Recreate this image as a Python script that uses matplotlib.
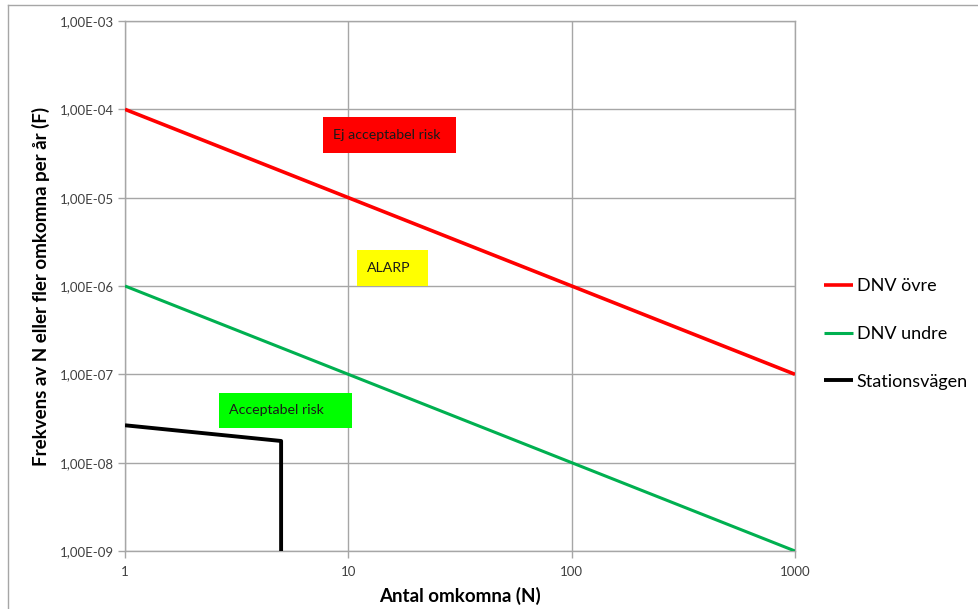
import matplotlib
matplotlib.use("Agg")
import matplotlib.pyplot as plt
from matplotlib.lines import Line2D
from matplotlib.patches import Rectangle
from matplotlib.ticker import FixedLocator, NullLocator

plt.rcParams['font.family'] = ['Lato', 'DejaVu Sans']

n_upper = [1, 1000]
f_upper = [1e-4, 1e-7]
n_lower = [1, 1000]
f_lower = [1e-6, 1e-9]
n_station = [1, 5, 5]
f_station = [2.65e-8, 1.76e-8, 1e-9]

x_ticks = [1, 10, 100, 1000]
x_ticklabels = ["1", "10", "100", "1000"]
y_ticks = [1e-9, 1e-8, 1e-7, 1e-6, 1e-5, 1e-4, 1e-3]
y_ticklabels = ["1,00E-09", "1,00E-08", "1,00E-07", "1,00E-06", "1,00E-05", "1,00E-04", "1,00E-03"]

series_names = ["DNV övre", "DNV undre", "Stationsvägen"]
region_labels = ["Ej acceptabel risk", "ALARP", "Acceptabel risk"]

W, H = 979, 609
fig = plt.figure(figsize=(W / 100, H / 100), dpi=100)
ax = fig.add_axes([125 / W, 1 - 551 / H, (795 - 125) / W, (551 - 21) / H])

ax.set_xscale('log')
ax.set_yscale('log')
ax.set_xlim(1, 1000)
ax.set_ylim(1e-9, 1e-3)

l1, = ax.plot(n_upper, f_upper, color='#ff0000', lw=2.6, solid_capstyle='butt', zorder=3)
l2, = ax.plot(n_lower, f_lower, color='#00b050', lw=2.2, solid_capstyle='butt', zorder=3)
l3, = ax.plot(n_station, f_station, color='black', lw=2.8, solid_capstyle='butt', zorder=3)

ax.xaxis.set_major_locator(FixedLocator(x_ticks))
ax.yaxis.set_major_locator(FixedLocator(y_ticks))
ax.xaxis.set_minor_locator(NullLocator())
ax.yaxis.set_minor_locator(NullLocator())
ax.set_xticklabels(x_ticklabels)
ax.set_yticklabels(y_ticklabels)
ax.tick_params(axis='both', which='major', length=5, color='#a6a6a6', width=1,
               labelsize=9.5, labelcolor='#404040', direction='out')
ax.tick_params(axis='x', pad=6)
ax.tick_params(axis='y', pad=3)
ax.grid(True, which='major', color='#a6a6a6', lw=1)
ax.set_axisbelow(True)
for s in ax.spines.values():
    s.set_color('#a6a6a6')
    s.set_linewidth(1)

ax.set_xlabel("Antal omkomna (N)", fontsize=13.5, fontweight='bold', labelpad=6)
ax.set_ylabel("Frekvens av N eller fler omkomna per år (F)", fontsize=13.5, fontweight='bold', labelpad=4)
ax.yaxis.set_label_coords(-0.112, 0.5)

# region label boxes (pixel positions in figure)
boxes = [
    (323, 117, 456, 153, '#ff0000', region_labels[0]),
    (357, 250, 428, 286, '#ffff00', region_labels[1]),
    (219, 393, 352, 428, '#00ff00', region_labels[2]),
]
for x0, y0, x1, y1, col, txt in boxes:
    fig.patches.append(Rectangle((x0 / W, 1 - y1 / H), (x1 - x0) / W, (y1 - y0) / H,
                                 transform=fig.transFigure, facecolor=col, edgecolor='none', zorder=5))
    fig.text((x0 + 10) / W, 1 - (y0 + y1) / 2 / H, txt, fontsize=10.2, color='#1a1a1a',
             ha='left', va='center', zorder=6)

leg = fig.legend([l1, l2, l3], series_names, loc='center left',
                 bbox_to_anchor=(808 / W, 1 - 334 / H), frameon=False, fontsize=13,
                 handlelength=1.6, handletextpad=0.2, labelspacing=1.75)

# outer chart border (top and left)
fig.add_artist(Line2D([8 / W, 977 / W], [1 - 5 / H, 1 - 5 / H], transform=fig.transFigure,
                      color='#a6a6a6', lw=1))
fig.add_artist(Line2D([8 / W, 8 / W], [1 - 5 / H, 0], transform=fig.transFigure,
                      color='#a6a6a6', lw=1))

fig.savefig("out.png", dpi=100, facecolor='white')
